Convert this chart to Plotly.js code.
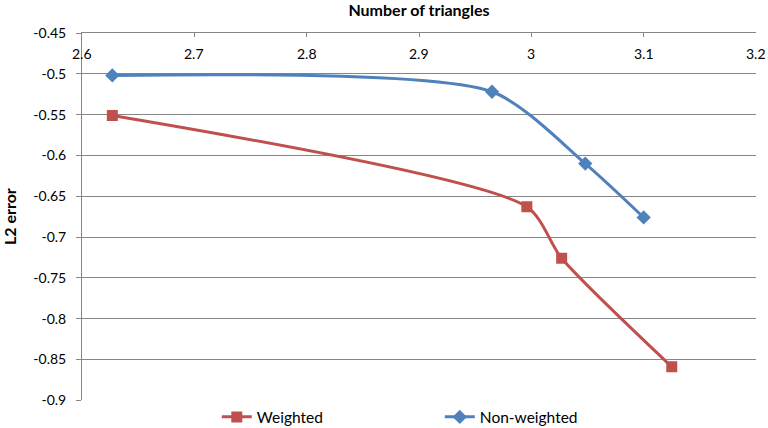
<!DOCTYPE html>
<html><head><meta charset="utf-8">
<script src="https://cdn.plot.ly/plotly-3.0.1.min.js"></script>
<style>html,body{margin:0;padding:0;background:#fff}#c{width:768px;height:428px}</style>
</head><body><div id="c"></div>
<script>
const weightedX = [2.627, 2.996, 3.027, 3.125];
const weightedY = [-0.551, -0.663, -0.726, -0.859];
const nonWeightedX = [2.627, 2.965, 3.048, 3.100];
const nonWeightedY = [-0.502, -0.522, -0.610, -0.676];
const xTicks = [2.6, 2.7, 2.8, 2.9, 3.0, 3.1, 3.2];
const xTickText = ['2.6', '2.7', '2.8', '2.9', '3', '3.1', '3.2'];
const yTicks = [-0.45, -0.5, -0.55, -0.6, -0.65, -0.7, -0.75, -0.8, -0.85, -0.9];
const yTickText = ['-0.45', '-0.5', '-0.55', '-0.6', '-0.65', '-0.7', '-0.75', '-0.8', '-0.85', '-0.9'];

const font = 'Lato, "Open Sans", sans-serif';
const traces = [
  {x: weightedX, y: weightedY, name: 'Weighted', mode: 'lines+markers',
   line: {color: '#C0504D', width: 3, shape: 'spline', smoothing: 0.7},
   marker: {symbol: 'square', size: 11, color: '#C0504D'}},
  {x: nonWeightedX, y: nonWeightedY, name: 'Non-weighted', mode: 'lines+markers',
   line: {color: '#4F81BD', width: 3, shape: 'spline', smoothing: 0.7},
   marker: {symbol: 'diamond', size: 11, color: '#4F81BD'}}
];
const tickAnnotations = xTicks.map((v, i) => ({
  x: v, xref: 'x', y: 1, yref: 'paper', yanchor: 'top', yshift: -10,
  text: xTickText[i], showarrow: false, font: {family: font, size: 14, color: '#000'}
}));
const layout = {
  width: 768, height: 428,
  margin: {l: 82, r: 12, t: 33, b: 27},
  paper_bgcolor: '#fff', plot_bgcolor: '#fff',
  font: {family: font, size: 13, color: '#000'},
  showlegend: true,
  legend: {orientation: 'h', x: 0.2, xanchor: 'left', y: 0.025, yref: 'container', yanchor: 'middle',
           font: {family: font, size: 15.5}, entrywidth: 178, entrywidthmode: 'pixels'},
  annotations: tickAnnotations,
  xaxis: {side: 'top', range: [2.6, 3.2], tickvals: xTicks, showticklabels: false,
          ticks: 'inside', ticklen: 4, tickcolor: '#868686', automargin: false,
          showline: true, linecolor: '#868686', linewidth: 1, showgrid: false, zeroline: false,
          title: {text: '<b>Number of triangles</b>', font: {family: font, size: 16}, standoff: 12}},
  yaxis: {range: [-0.9, -0.45], tickvals: yTicks, ticktext: yTickText, automargin: false,
          ticks: 'outside', ticklen: 5, tickcolor: '#868686', ticklabelstandoff: 7,
          showline: true, linecolor: '#868686', linewidth: 1,
          showgrid: true, gridcolor: '#868686', gridwidth: 1, zeroline: false,
          title: {text: '<b>L2 error</b>', font: {family: font, size: 16}, standoff: 12},
          tickfont: {family: font, size: 14}}
};
Plotly.newPlot('c', traces, layout, {displayModeBar: false, staticPlot: true});
</script>
</body></html>
